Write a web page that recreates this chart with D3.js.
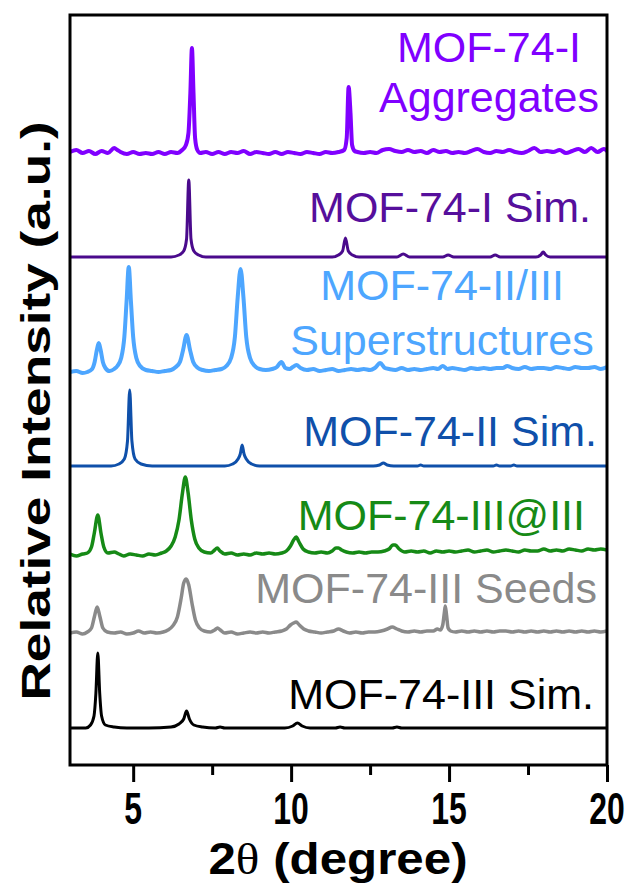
<!DOCTYPE html>
<html lang="en">
<head>
    <meta charset="UTF-8">
    <title>MOF-74 PXRD patterns</title>
    <script src="https://d3js.org/d3.v7.min.js"></script>
    <style>
        body { margin: 0; background: #fff; }
        .trace { fill: none; stroke-linejoin: round; stroke-linecap: round; }
        .label { font-family: "Liberation Sans", Arial, sans-serif; font-size: 43px; }
        .tick-label { font-family: "Liberation Sans", Arial, sans-serif; font-weight: bold; font-size: 31px; }
        .axis-title { font-family: "Liberation Sans", Arial, sans-serif; font-weight: bold; }
    </style>
</head>
<body>
    <script>
        // 2theta (degree) vs intensity above each trace's own baseline
        const xTicks = [5, 10, 15, 20];
        const xMinorTicks = [7.5, 12.5, 17.5];

        const seriesNames = ["MOF-74-I Aggregates", "MOF-74-I Sim.", "MOF-74-II/III Superstructures",
            "MOF-74-II Sim.", "MOF-74-III@III", "MOF-74-III Seeds", "MOF-74-III Sim."];
        // vertical offset of each trace (Origin style stacking)
        const seriesOffsets = [612, 508, 393, 299, 210, 132, 37];

        const aggregates = [[3.0,1],[3.2,3],[3.4,0],[3.6,2],[3.8,-1],[4.0,2],[4.2,0],[4.4,5],[4.5,3],[4.6,1],[4.8,-1],[5.0,1],[5.2,-1],[5.4,0],[5.6,-1],[5.8,1],[6.0,-1],[6.2,1],[6.4,0],[6.55,3],[6.67,8],[6.75,20],[6.81,60],[6.86,105],[6.91,60],[6.96,15],[7.03,3],[7.12,0],[7.3,1],[7.5,-1],[7.7,1],[7.9,-1],[8.1,1],[8.3,0],[8.5,2],[8.7,-1],[8.9,1],[9.1,0],[9.3,-1],[9.5,1],[9.7,-1],[9.9,1],[10.1,0],[10.3,-1],[10.5,1],[10.7,0],[10.9,-1],[11.1,1],[11.3,0],[11.5,1],[11.68,3],[11.76,15],[11.82,66],[11.88,40],[11.93,8],[12.01,2],[12.1,1],[12.3,0],[12.5,1],[12.7,0],[12.9,3],[13.1,4],[13.3,2],[13.5,1],[13.7,3],[13.9,1],[14.1,2],[14.3,0],[14.5,3],[14.7,1],[14.9,2],[15.1,0],[15.3,1],[15.5,0],[15.7,2],[15.9,4],[16.1,1],[16.3,0],[16.5,2],[16.7,1],[16.9,3],[17.1,1],[17.3,0],[17.5,2],[17.7,5],[17.9,1],[18.1,2],[18.3,1],[18.5,3],[18.7,0],[18.9,2],[19.1,4],[19.3,1],[19.5,5],[19.7,1],[19.9,4],[20.0,2]];

        const simI = [[3,0],[6.2,0],[6.45,2],[6.6,6],[6.69,18],[6.76,77],[6.83,18],[6.92,6],[7.07,2],[7.3,0],[11.3,0],[11.5,2],[11.63,6],[11.72,19],[11.81,6],[11.94,2],[12.15,0],[13.35,0],[13.55,3],[13.75,0],[14.8,0],[14.97,2],[15.15,0],[16.3,0],[16.46,2],[16.62,0],[17.75,0],[17.9,2],[17.98,5],[18.06,2],[18.2,0],[20,0]];

        const superstructures = [[3.0,0],[3.2,1],[3.4,-1],[3.55,0],[3.7,3],[3.78,10],[3.85,22],[3.91,29],[3.97,22],[4.04,10],[4.12,4],[4.25,1],[4.4,3],[4.5,6],[4.62,14],[4.72,35],[4.79,70],[4.86,105],[4.93,70],[5.0,35],[5.1,14],[5.22,6],[5.4,2],[5.6,1],[5.8,0],[6.0,1],[6.2,2],[6.35,5],[6.48,10],[6.58,22],[6.69,37],[6.8,22],[6.9,10],[7.05,4],[7.2,2],[7.4,1],[7.6,2],[7.8,3],[7.95,6],[8.1,14],[8.22,35],[8.31,75],[8.4,103],[8.49,75],[8.58,35],[8.7,14],[8.85,6],[9.0,3],[9.2,2],[9.4,3],[9.55,5],[9.69,10],[9.82,4],[9.95,3],[10.05,5],[10.17,7],[10.3,4],[10.5,2],[10.7,3],[10.9,1],[11.1,2],[11.3,3],[11.5,1],[11.7,2],[11.9,3],[12.1,2],[12.3,3],[12.5,2],[12.65,4],[12.82,9],[12.97,4],[13.1,3],[13.3,2],[13.5,4],[13.7,2],[13.9,3],[14.1,2],[14.3,3],[14.5,4],[14.65,3],[14.8,6],[14.95,3],[15.1,4],[15.3,3],[15.5,2],[15.7,4],[15.9,3],[16.1,4],[16.3,3],[16.5,4],[16.7,4],[16.84,6],[17.0,4],[17.2,3],[17.4,5],[17.6,3],[17.8,4],[18.0,4],[18.2,3],[18.4,5],[18.6,4],[18.8,3],[19.0,5],[19.2,4],[19.4,4],[19.6,5],[19.8,3],[20.0,5]];

        const simII = [[3,0],[4.3,0],[4.55,2],[4.72,7],[4.82,25],[4.89,76],[4.96,25],[5.06,7],[5.25,2],[5.6,0],[7.9,0],[8.15,2],[8.32,7],[8.39,12],[8.45,21],[8.51,12],[8.58,7],[8.75,2],[9.0,0],[12.6,0],[12.8,1],[12.92,3],[13.04,1],[13.25,0],[14.0,0],[14.1,1],[14.2,0],[16.4,0],[16.5,1],[16.6,0],[16.95,0],[17.05,1],[17.15,0],[20,0]];

        const seededIII = [[3.0,1],[3.2,-1],[3.4,1],[3.55,2],[3.68,8],[3.77,22],[3.88,40],[3.98,22],[4.07,8],[4.2,2],[4.4,3],[4.55,1],[4.7,-1],[4.9,1],[5.1,0],[5.3,-1],[5.5,1],[5.7,0],[5.9,2],[6.05,4],[6.2,9],[6.33,18],[6.45,35],[6.56,62],[6.65,78],[6.74,62],[6.84,35],[6.95,16],[7.08,7],[7.25,3],[7.45,2],[7.58,5],[7.66,7],[7.75,4],[7.9,1],[8.1,2],[8.3,0],[8.5,1],[8.7,0],[8.9,2],[9.1,1],[9.3,2],[9.5,1],[9.7,2],[9.85,4],[9.98,9],[10.08,15],[10.16,18],[10.25,13],[10.38,6],[10.55,3],[10.75,2],[10.95,3],[11.15,2],[11.3,4],[11.42,7],[11.5,7],[11.6,5],[11.75,3],[11.95,2],[12.15,3],[12.35,2],[12.55,3],[12.75,3],[12.95,4],[13.1,6],[13.22,10],[13.3,10],[13.42,6],[13.6,3],[13.8,4],[14.0,3],[14.2,4],[14.4,2],[14.6,4],[14.8,3],[15.0,4],[15.2,3],[15.4,4],[15.6,5],[15.8,3],[16.0,4],[16.2,5],[16.4,3],[16.6,4],[16.8,5],[17.0,4],[17.2,3],[17.4,5],[17.6,4],[17.8,4],[18.0,6],[18.2,4],[18.4,5],[18.6,4],[18.8,6],[19.0,5],[19.2,4],[19.4,6],[19.6,5],[19.8,6],[20.0,5]];

        const seedsIII = [[3.0,0],[3.2,1],[3.4,-1],[3.55,1],[3.68,5],[3.77,16],[3.86,26],[3.95,16],[4.04,5],[4.18,1],[4.4,0],[4.6,1],[4.8,-1],[5.0,0],[5.17,2],[5.35,0],[5.55,1],[5.75,0],[5.95,1],[6.1,3],[6.25,7],[6.4,16],[6.52,35],[6.6,50],[6.68,54],[6.76,48],[6.86,30],[6.97,13],[7.1,5],[7.25,2],[7.45,1],[7.58,3],[7.67,5],[7.76,3],[7.9,0],[8.1,1],[8.3,-1],[8.5,0],[8.7,1],[8.9,0],[9.1,1],[9.3,0],[9.5,1],[9.7,2],[9.85,4],[9.98,8],[10.08,10],[10.16,11],[10.26,8],[10.4,4],[10.55,2],[10.75,1],[10.95,0],[11.15,1],[11.35,2],[11.5,4],[11.65,2],[11.85,0],[12.05,1],[12.25,0],[12.45,1],[12.65,1],[12.85,2],[13.05,4],[13.2,6],[13.35,4],[13.5,2],[13.7,1],[13.9,2],[14.1,1],[14.3,2],[14.5,2],[14.63,4],[14.72,3],[14.8,8],[14.85,20],[14.88,27],[14.92,18],[14.97,5],[15.05,2],[15.2,1],[15.4,2],[15.6,1],[15.8,2],[16.0,1],[16.2,2],[16.4,1],[16.6,2],[16.8,2],[17.0,1],[17.2,2],[17.4,1],[17.6,2],[17.8,1],[18.0,2],[18.2,1],[18.4,2],[18.6,1],[18.8,2],[19.0,1],[19.2,2],[19.4,1],[19.6,2],[19.8,1],[20.0,2]];

        const simIII = [[3.0,0],[3.5,0],[3.65,3],[3.76,12],[3.82,35],[3.88,75],[3.94,35],[4.0,12],[4.12,3],[4.4,1],[4.8,0],[5.5,0],[6.2,1],[6.45,4],[6.6,9],[6.69,17],[6.78,9],[6.92,3],[7.2,1],[7.6,0],[7.75,1],[7.9,0],[9.8,0],[10.05,2],[10.2,5],[10.35,2],[10.6,0],[11.4,0],[11.55,1],[11.7,0],[13.2,0],[13.35,1],[13.5,0],[20,0]];

        const seriesData = [aggregates, simI, superstructures, simII, seededIII, seedsIII, simIII];

        const width = 632;
        const height = 885;
        const plot = { left: 70, right: 607, top: 15, bottom: 765 };

        // line colour / width per trace, label placement per trace
        const styles = [
            { color: "#8000ff", text: "#8000ff", width: 4 },
            { color: "#4a0a8c", text: "#560f9c", width: 3 },
            { color: "#4da6ff", text: "#4da6ff", width: 4 },
            { color: "#0f50aa", text: "#0f50aa", width: 3 },
            { color: "#168a16", text: "#168a16", width: 3.5 },
            { color: "#8a8a8a", text: "#8a8a8a", width: 3.5 },
            { color: "#000000", text: "#000000", width: 3 }
        ];
        const labels = [
            { lines: ["MOF-74-I", "Aggregates"], x: 489, y: [62, 112], anchor: "middle" },
            { lines: ["MOF-74-I Sim."], x: 591, y: [222], anchor: "end" },
            { lines: ["MOF-74-II/III", "Superstructures"], x: 442, y: [300, 355], anchor: "middle" },
            { lines: ["MOF-74-II Sim."], x: 597, y: [446], anchor: "end" },
            { lines: ["MOF-74-III@III"], x: 585, y: [530], anchor: "end" },
            { lines: ["MOF-74-III Seeds"], x: 597, y: [603], anchor: "end" },
            { lines: ["MOF-74-III Sim."], x: 594, y: [709], anchor: "end" }
        ];

        const svg = d3.select("body").append("svg")
            .attr("width", width)
            .attr("height", height);

        const x = d3.scaleLinear().domain([3, 20]).range([plot.left, plot.right]);
        const y = d3.scaleLinear().domain([0, 750]).range([plot.bottom, plot.top]);

        svg.append("clipPath").attr("id", "clip")
            .append("rect")
            .attr("x", plot.left).attr("y", plot.top)
            .attr("width", plot.right - plot.left).attr("height", plot.bottom - plot.top);

        // Draw traces
        const traces = svg.append("g").attr("clip-path", "url(#clip)");
        seriesData.forEach((pts, i) => {
            const line = d3.line()
                .x(d => x(d[0]))
                .y(d => y(seriesOffsets[i] + d[1]))
                .curve(d3.curveMonotoneX);
            traces.append("path")
                .datum(pts)
                .attr("class", "trace")
                .attr("stroke", styles[i].color)
                .attr("stroke-width", styles[i].width)
                .attr("d", line)
                .append("title").text(seriesNames[i]);
        });

        // Trace labels
        labels.forEach((l, i) => {
            l.lines.forEach((t, j) => {
                svg.append("text")
                    .attr("class", "label")
                    .attr("x", l.x)
                    .attr("y", l.y[j])
                    .attr("text-anchor", l.anchor)
                    .attr("fill", styles[i].text)
                    .text(t);
            });
        });

        // Frame + bottom axis
        svg.append("rect")
            .attr("x", plot.left).attr("y", plot.top)
            .attr("width", plot.right - plot.left).attr("height", plot.bottom - plot.top)
            .attr("fill", "none").attr("stroke", "#000").attr("stroke-width", 3);

        const xAxis = d3.axisBottom(x).tickValues(xTicks).tickSize(17).tickFormat("");
        svg.append("g")
            .attr("transform", `translate(0,${plot.bottom})`)
            .call(xAxis)
            .call(g => g.select(".domain").remove())
            .call(g => g.selectAll(".tick line").attr("stroke-width", 3));

        const xMinor = d3.axisBottom(x).tickValues(xMinorTicks).tickSize(10).tickFormat("");
        svg.append("g")
            .attr("transform", `translate(0,${plot.bottom})`)
            .call(xMinor)
            .call(g => g.select(".domain").remove())
            .call(g => g.selectAll(".tick line").attr("stroke-width", 3));

        // tick labels are vertically stretched in the original
        svg.append("g").selectAll("text")
            .data(xTicks)
            .enter().append("text")
            .attr("class", "tick-label")
            .attr("text-anchor", "middle")
            .attr("transform", d => `translate(${x(d)},824) scale(1.03,1.45)`)
            .text(d => d);

        const xTitle = svg.append("text")
            .attr("class", "axis-title")
            .attr("text-anchor", "middle")
            .attr("font-size", 44)
            .attr("transform", "translate(338,874) scale(1.12,1)");
        xTitle.append("tspan").text("2");
        xTitle.append("tspan")
            .attr("font-family", "'Liberation Serif', 'Times New Roman', serif")
            .attr("font-weight", "normal")
            .text("θ");
        xTitle.append("tspan").text(" (degree)");

        svg.append("text")
            .attr("class", "axis-title")
            .attr("font-size", 40)
            .attr("text-anchor", "middle")
            .attr("transform", "translate(50,411) rotate(-90) scale(1.33,1)")
            .text("Relative Intensity (a.u.)");
    </script>
</body>
</html>
